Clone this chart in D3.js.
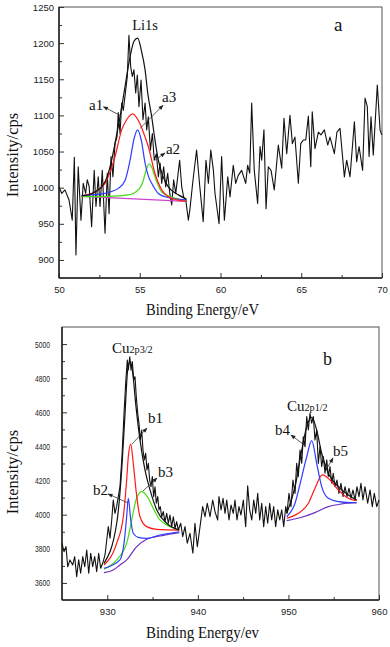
<!DOCTYPE html>
<html>
<head>
<meta charset="utf-8">
<script src="https://cdn.jsdelivr.net/npm/d3@7"></script>
<style>
    body { margin: 0; background: #fff; }
    svg { display: block; }
    .tick text { font-family: "Liberation Sans", Arial, sans-serif; font-size: 9.5px; fill: #222; }
    .tick line { stroke: #333; stroke-width: 1; }
    .serif { font-family: "Liberation Serif", "Times New Roman", serif; fill: #111; }
</style>
</head>
<body>
<div id="vis"></div>
<script>
'use strict';

//panel a: Li1s raw spectrum (binding energy eV / counts)
var liEnergy = [50.00, 50.17, 50.37, 50.62, 50.82, 50.95, 51.05, 51.19, 51.36, 51.50, 51.65, 51.75, 51.87, 52.02, 52.18,
    52.29, 52.43, 52.54, 52.68, 52.85, 52.99, 53.10, 53.22, 53.34, 53.47, 53.59, 53.67, 53.78, 53.88, 53.98, 54.13, 54.23,
    54.33, 54.44, 54.54, 54.64, 54.75, 54.85, 54.95, 55.08, 55.20, 55.33, 55.43, 55.53, 55.66, 55.78, 55.90, 56.03, 56.15,
    56.26, 56.36, 56.48, 56.61, 56.73, 56.86, 56.98, 57.10, 57.23, 57.35, 57.47, 57.60, 57.72, 57.85, 58.01, 58.10, 58.30,
    58.52, 58.72, 58.93, 59.10, 59.25, 59.40, 59.56, 59.66, 59.91, 60.07, 60.24, 60.45, 60.59, 60.79, 60.94, 61.10, 61.31,
    61.56, 61.68, 61.81, 61.93, 62.09, 62.30, 62.45, 62.55, 62.69, 62.82, 62.96, 63.13, 63.33, 63.58, 63.79, 63.93, 64.10,
    64.30, 64.45, 64.61, 64.82, 64.97, 65.13, 65.28, 65.44, 65.59, 65.68, 65.85, 66.06, 66.22, 66.43, 66.64, 66.78, 67.05,
    67.21, 67.40, 67.67, 67.81, 68.02, 68.29, 68.43, 68.58, 68.80, 68.95, 69.09, 69.20, 69.32, 69.46, 69.71, 69.88, 69.98];
var liCounts = [1001, 992, 997, 983, 955, 1042, 907, 1029, 955, 1006, 992, 1011, 1001, 946, 1024,
    974, 1015, 974, 1024, 937, 1020, 964, 1043, 1015, 1061, 1070, 1104, 1075, 1117, 1107, 1135, 1154,
    1211, 1167, 1154, 1163, 1131, 1156, 1112, 1149, 1094, 1117, 1080, 1098, 1052, 1075, 1038, 1047, 1015,
    1034, 1006, 1029, 1001, 1020, 992, 976, 1011, 992, 1015, 1038, 1001, 987, 983, 955, 969, 1011,
    1052, 1001, 953, 1038, 1006, 1052, 1024, 992, 950, 1043, 955, 1015, 987, 1031, 1006, 1017, 1024,
    1006, 1031, 1020, 1117, 1024, 978, 1057, 1038, 1080, 971, 1029, 1024, 997, 1059, 1027, 1096, 1047,
    1100, 1061, 1070, 1006, 1061, 1066, 1066, 1099, 1029, 1105, 1054, 1077, 1073, 1080, 1059, 1070, 1047,
    1077, 1082, 1015, 1038, 1015, 1091, 1036, 1057, 1024, 1124, 1112, 1043, 1098, 1045, 1142, 1080, 1073];

//panel a: fitted curves [eV, counts]
var liEnvelope = [[51.4, 989], [51.82, 990], [52.3, 995], [52.64, 1001], [53.0, 1016], [53.26, 1038], [53.5, 1065],
    [53.78, 1098], [54.09, 1140], [54.4, 1181], [54.65, 1203], [54.87, 1207], [55.1, 1190], [55.33, 1163], [55.5, 1130],
    [55.74, 1098], [55.95, 1065], [56.15, 1038], [56.45, 1015], [56.77, 1001], [57.1, 994], [57.39, 990], [57.9, 984]];
var liA1 = [[51.4, 988.5], [52.0, 992], [52.5, 998], [52.85, 1006], [53.2, 1024], [53.47, 1043], [53.88, 1080],
    [54.19, 1094], [54.56, 1102], [55.0, 1089], [55.33, 1070], [55.53, 1057], [55.94, 1020], [56.36, 997],
    [56.77, 987.5], [57.3, 983], [57.9, 981]];
var liA3 = [[51.4, 989], [52.0, 990], [52.85, 992], [53.3, 995], [53.67, 999], [54.09, 1010], [54.4, 1038],
    [54.65, 1068], [54.87, 1080], [55.1, 1065], [55.33, 1034], [55.55, 1015], [55.74, 1006], [56.15, 992],
    [56.8, 986], [57.9, 983]];
var liA2 = [[51.4, 987.5], [53.0, 988], [54.29, 990], [54.91, 997], [55.22, 1010], [55.4, 1025], [55.59, 1033],
    [55.75, 1028], [55.94, 1015], [56.15, 1003], [56.36, 994], [56.98, 987], [57.9, 982]];
var liBase = [[51.4, 988], [57.9, 981]];

//panel b: Cu2p raw spectrum
var cuEnergy = [925.00, 925.22, 925.44, 925.63, 925.88, 926.18, 926.40, 926.62, 926.84, 927.06, 927.29, 927.51,
    927.73, 927.95, 928.17, 928.39, 928.61, 928.83, 929.05, 929.27, 929.49, 929.75, 929.94, 930.11, 930.30, 930.49,
    930.66, 930.85, 931.04, 931.40, 931.62, 931.85, 932.03, 932.21, 932.32, 932.48, 932.62, 932.76, 932.92, 933.06,
    933.20, 933.36, 933.50, 933.65, 933.80, 933.94, 934.09, 934.24, 934.38, 934.53, 934.68, 934.83, 934.97, 935.12,
    935.27, 935.41, 935.57, 935.71, 935.85, 936.01, 936.18, 936.37, 936.56, 936.74, 936.92, 937.11, 937.29, 937.48,
    937.66, 937.84, 938.11, 938.33, 938.58, 938.83, 939.13, 939.45, 939.68, 939.94, 940.24, 940.53, 940.79, 941.04,
    941.34, 941.64, 941.89, 942.19, 942.33, 942.56, 942.78, 943.00, 943.19, 943.44, 943.66, 943.91, 944.10, 944.32,
    944.54, 944.76, 945.02, 945.28, 945.50, 945.72, 945.95, 946.17, 946.39, 946.61, 946.83, 947.05, 947.27, 947.49,
    947.71, 947.93, 948.15, 948.37, 948.59, 948.82, 949.04, 949.26, 949.48, 949.70, 949.84, 950.06, 950.28, 950.50,
    950.73, 950.91, 951.09, 951.28, 951.47, 951.64, 951.83, 952.02, 952.20, 952.38, 952.57, 952.75, 952.93, 953.12,
    953.30, 953.49, 953.67, 953.85, 954.04, 954.23, 954.40, 954.59, 954.78, 954.95, 955.14, 955.36, 955.58, 955.80,
    956.03, 956.25, 956.47, 956.69, 956.91, 957.13, 957.35, 957.57, 957.79, 958.01, 958.23, 958.45, 958.75, 959.01,
    959.26, 959.48, 959.75, 960.00];
var cuCounts = [3832, 3783, 3813, 3695, 3735, 3705, 3754, 3637, 3735, 3657, 3754, 3695,
    3793, 3657, 3773, 3695, 3754, 3666, 3773, 3686, 3715, 3764, 3852, 3930, 3862, 3969,
    4086, 4008, 4050, 4164, 4340, 4594, 4770, 4907, 4848, 4926, 4848, 4897, 4789, 4809,
    4692, 4594, 4536, 4438, 4496, 4379, 4321, 4360, 4262, 4301, 4203, 4164, 4223, 4106,
    4164, 4067, 4106, 4028, 4047, 3988, 4018, 3959, 4008, 3950, 3998, 3930, 3988, 3920,
    3959, 3910, 3950, 3871, 3930, 3833, 3891, 3774, 3950, 3813, 3930, 4047, 3988, 4067,
    3988, 4086, 4018, 3969, 4106, 4028, 4096, 4008, 4086, 3969, 4057, 4008, 4086, 3969,
    4047, 3998, 4086, 3930, 4169, 4028, 3969, 4086, 4008, 4125, 3969, 4067, 3930, 4047,
    3950, 4067, 3969, 4047, 3930, 4028, 3969, 4028, 3930, 4047, 4008, 4125, 4047, 4203,
    4125, 4301, 4223, 4379, 4301, 4457, 4399, 4575, 4496, 4594, 4536, 4575, 4438, 4496,
    4301, 4399, 4282, 4340, 4243, 4321, 4223, 4282, 4184, 4243, 4164, 4203, 4125, 4184,
    4106, 4164, 4106, 4155, 4096, 4145, 4086, 4164, 4106, 4184, 4086, 4164, 4067, 4145,
    4047, 4125, 4047, 4086];

//panel b: fitted curves, Cu2p3/2
var cu3Envelope = [[929.64, 3715], [931.04, 3950], [931.59, 4262], [931.96, 4594], [932.25, 4848], [932.51, 4897],
    [932.81, 4829], [933.17, 4633], [933.61, 4438], [934.16, 4262], [934.72, 4145], [935.46, 4028], [936.56, 3950],
    [937.95, 3910]];
var cuB1 = [[929.64, 3705], [931.04, 3833], [931.77, 3988], [932.14, 4203], [932.32, 4340], [932.59, 4414],
    [932.87, 4301], [933.17, 4145], [933.61, 3988], [934.35, 3930], [935.46, 3914], [937.95, 3910]];
var cuB2 = [[929.64, 3686], [931.40, 3735], [931.85, 3833], [932.14, 3988], [932.32, 4096], [932.59, 3969],
    [932.87, 3891], [933.42, 3867], [934.35, 3861], [935.82, 3881], [937.95, 3900]];
var cuB3 = [[929.64, 3680], [931.04, 3735], [932.14, 3833], [932.70, 3969], [933.17, 4086], [933.80, 4135],
    [934.42, 4106], [935.08, 4037], [935.82, 3969], [936.56, 3940], [937.95, 3910]];
var cu3Base = [[929.64, 3660], [930.66, 3676], [931.40, 3705], [932.14, 3735], [933.25, 3813], [934.35, 3856],
    [935.82, 3875], [937.95, 3895]];

//panel b: fitted curves, Cu2p1/2
var cu1Envelope = [[949.81, 4008], [950.73, 4164], [951.47, 4379], [952.02, 4516], [952.57, 4571], [953.12, 4496],
    [953.67, 4360], [954.40, 4243], [955.51, 4164], [956.61, 4116], [957.54, 4086]];
var cuB4 = [[949.81, 3988], [950.73, 4067], [951.39, 4203], [952.02, 4340], [952.57, 4434], [953.12, 4301],
    [953.67, 4164], [954.40, 4096], [955.51, 4077], [957.54, 4070]];
var cuB5 = [[949.81, 3979], [951.09, 4008], [952.20, 4067], [952.93, 4155], [953.74, 4233], [954.59, 4203],
    [955.51, 4145], [956.61, 4096], [957.54, 4082]];
var cu1Base = [[949.81, 3965], [951.47, 3985], [952.93, 4012], [954.40, 4047], [955.88, 4063], [957.54, 4070]];

//ticks
var liXTicks = [50, 55, 60, 65, 70];
var liXMinor = [52.5, 57.5, 62.5, 67.5];
var liYTicks = [900, 950, 1000, 1050, 1100, 1150, 1200, 1250];
var liYMinor = [925, 975, 1025, 1075, 1125, 1175, 1225];
var cuXTicks = [930, 940, 950, 960];
var cuXMinor = [935, 945, 955];
var cuYTicks = [3600, 3800, 4000, 4200, 4400, 4600, 4800, 5000];
var cuYMinor = [3700, 3900, 4100, 4300, 4500, 4700, 4900];

var svg = d3.select('#vis').append('svg').attr('width', 390).attr('height', 647);

svg.append('defs').append('marker')
    .attr('id', 'arrow')
    .attr('viewBox', '0 0 10 10')
    .attr('refX', 9).attr('refY', 5)
    .attr('markerUnits', 'userSpaceOnUse')
    .attr('markerWidth', 6).attr('markerHeight', 5)
    .attr('orient', 'auto')
    .append('path').attr('d', 'M0,1L10,5L0,9Z').attr('fill', '#222');

function drawPanel(p) {
    var g = svg.append('g').attr('transform', 'translate(' + p.left + ',' + p.top + ')');
    var x = d3.scaleLinear().domain(p.xDomain).range([0, p.w]);
    var y = d3.scaleLinear().domain(p.yDomain).range([p.h, 0]);

    g.append('rect').attr('width', p.w).attr('height', p.h)
        .attr('fill', '#fff').attr('stroke', '#555').attr('stroke-width', 1);

    //axes, ticks pointing inward
    var xAxis = g.append('g').attr('transform', 'translate(0,' + p.h + ')')
        .call(d3.axisBottom(x).tickValues(p.xTicks).tickSize(-5).tickPadding(8).tickFormat(d3.format('d')));
    g.append('g').attr('transform', 'translate(0,' + p.h + ')')
        .call(d3.axisBottom(x).tickValues(p.xMinor).tickSize(-3).tickFormat(''));
    var yAxis = g.append('g')
        .call(d3.axisLeft(y).tickValues(p.yTicks).tickSize(-5).tickPadding(p.yPad).tickFormat(d3.format('d')));
    g.append('g')
        .call(d3.axisLeft(y).tickValues(p.yMinor).tickSize(-3).tickFormat(''));
    g.selectAll('.domain').remove();
    if (p.yTextLength) {
        yAxis.selectAll('text').attr('textLength', p.yTextLength).attr('lengthAdjust', 'spacingAndGlyphs');
    }
    g.append('line').attr('y2', p.h).attr('stroke', '#222').attr('stroke-width', 1.5);
    g.append('line').attr('y1', p.h).attr('y2', p.h).attr('x2', p.w).attr('stroke', '#222').attr('stroke-width', 1.5);

    //raw spectrum
    var line = d3.line().x(function (d) { return x(d[0]); }).y(function (d) { return y(d[1]); });
    g.append('path').datum(d3.zip(p.energy, p.counts))
        .attr('d', line).attr('fill', 'none').attr('stroke', '#111').attr('stroke-width', 1.1)
        .attr('stroke-linejoin', 'round');

    //fitted curves
    var smooth = d3.line().curve(d3.curveMonotoneX)
        .x(function (d) { return x(d[0]); }).y(function (d) { return y(d[1]); });
    p.fits.forEach(function (f) {
        g.append('path').datum(f.data)
            .attr('d', smooth).attr('fill', 'none').attr('stroke', f.color).attr('stroke-width', 1.2);
    });

    //labels and arrows (data coords)
    p.labels.forEach(function (l) {
        var t = g.append('text').attr('class', 'serif')
            .attr('x', x(l.at[0])).attr('y', y(l.at[1]))
            .attr('font-size', l.size).attr('text-anchor', l.anchor || 'start');
        t.append('tspan').text(l.text);
        if (l.sub) {
            t.append('tspan').attr('font-size', l.size * 0.68).text(l.sub);
        }
        if (l.arrow) {
            g.append('line')
                .attr('x1', x(l.arrow[0][0])).attr('y1', y(l.arrow[0][1]))
                .attr('x2', x(l.arrow[1][0])).attr('y2', y(l.arrow[1][1]))
                .attr('stroke', '#333').attr('stroke-width', 0.8)
                .attr('marker-end', 'url(#arrow)');
        }
    });

    //axis titles
    svg.append('text').attr('class', 'serif')
        .attr('x', p.left + p.w / 2 - 18).attr('y', p.xTitleY)
        .attr('text-anchor', 'middle').attr('font-size', 16)
        .attr('textLength', 113).attr('lengthAdjust', 'spacingAndGlyphs')
        .text(p.xTitle);
    svg.append('text').attr('class', 'serif')
        .attr('transform', 'translate(18,' + p.yTitleY + ') rotate(-90)')
        .attr('text-anchor', 'middle').attr('font-size', 16.5)
        .text('Intensity/cps');
}

drawPanel({
    left: 59, top: 7, w: 323, h: 271,
    xDomain: [50, 70], yDomain: [875, 1250],
    xTicks: liXTicks, xMinor: liXMinor, yTicks: liYTicks, yMinor: liYMinor, yPad: 5,
    energy: liEnergy, counts: liCounts,
    fits: [
        { data: liBase, color: '#cc44cc' },
        { data: liA2, color: '#44dd11' },
        { data: liA3, color: '#2a3cff' },
        { data: liA1, color: '#ff1a1a' },
        { data: liEnvelope, color: '#111' }
    ],
    labels: [
        { text: 'Li1s', at: [55.33, 1218], size: 14.5, anchor: 'middle' },
        { text: 'a', at: [67.03, 1217], size: 19 },
        { text: 'a1', at: [51.86, 1107], size: 15, arrow: [[53.78, 1100], [52.75, 1112]] },
        { text: 'a3', at: [56.38, 1118], size: 15, arrow: [[55.02, 1082], [56.44, 1114]] },
        { text: 'a2', at: [56.62, 1046], size: 15, arrow: [[55.94, 1038], [56.56, 1048]] }
    ],
    xTitle: 'Binding Energy/eV', xTitleY: 315, yTitleY: 155
});

drawPanel({
    left: 62, top: 327, w: 317, h: 273,
    xDomain: [925, 960], yDomain: [3500, 5100],
    xTicks: cuXTicks, xMinor: cuXMinor, yTicks: cuYTicks, yMinor: cuYMinor, yPad: 12, yTextLength: 15,
    energy: cuEnergy, counts: cuCounts,
    fits: [
        { data: cu3Base, color: '#6a2fc0' },
        { data: cuB3, color: '#44dd11' },
        { data: cuB2, color: '#2a3cff' },
        { data: cuB1, color: '#ff1a1a' },
        { data: cu3Envelope, color: '#111' },
        { data: cu1Base, color: '#6a2fc0' },
        { data: cuB5, color: '#ff1a1a' },
        { data: cuB4, color: '#2a3cff' },
        { data: cu1Envelope, color: '#111' }
    ],
    labels: [
        { text: 'Cu', sub: '2p3/2', at: [930.52, 4948], size: 15 },
        { text: 'b', at: [953.82, 4877], size: 18 },
        { text: 'b1', at: [934.5, 4537], size: 15, arrow: [[932.73, 4414], [934.38, 4508]] },
        { text: 'b2', at: [928.42, 4116], size: 15, arrow: [[932.29, 4069], [930.08, 4122]] },
        { text: 'b3', at: [935.6, 4221], size: 15, arrow: [[933.94, 4139], [935.49, 4215]] },
        { text: 'Cu', sub: '2p1/2', at: [949.84, 4608], size: 15 },
        { text: 'b4', at: [948.52, 4467], size: 15, arrow: [[951.94, 4401], [950.28, 4467]] },
        { text: 'b5', at: [954.92, 4344], size: 15, arrow: [[954.15, 4262], [954.92, 4332]] }
    ],
    xTitle: 'Binding Energy/ev', xTitleY: 638, yTitleY: 472
});
</script>
</body>
</html>
